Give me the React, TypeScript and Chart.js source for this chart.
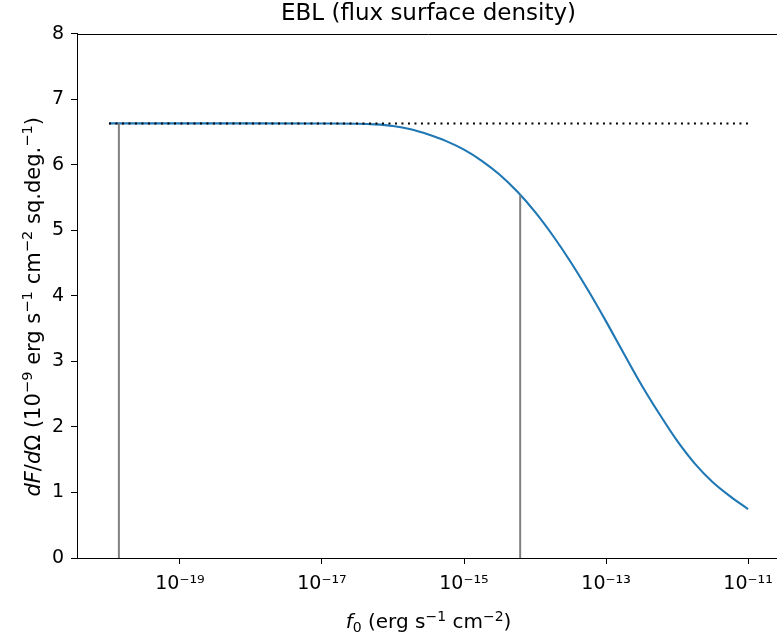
import React, { useEffect, useRef } from "react";
import { Chart, registerables } from "chart.js";

Chart.register(...registerables);

// f0 sample positions (erg s^-1 cm^-2) and read-off dF/dOmega values (1e-9 erg s^-1 cm^-2 sq.deg^-1)
const f0 = [
  1e-20, 1e-19, 1e-18, 1e-17, 3.16e-17, 5.62e-17, 1e-16, 1.78e-16, 3.16e-16, 5.62e-16,
  1e-15, 1.78e-15, 3.16e-15, 5.62e-15, 1e-14, 1.78e-14, 3.16e-14, 5.62e-14,
  1e-13, 1.78e-13, 3.16e-13, 5.62e-13, 1e-12, 1.78e-12, 3.16e-12, 5.62e-12, 1e-11,
];
const dFdOmega = [
  6.63, 6.63, 6.63, 6.628, 6.625, 6.615, 6.59, 6.54, 6.46, 6.36,
  6.23, 6.06, 5.85, 5.59, 5.28, 4.92, 4.52, 4.08,
  3.61, 3.12, 2.64, 2.2, 1.79, 1.44, 1.16, 0.94, 0.745,
];

const plateauLevel = 6.63;
const plateauRange = [1e-20, 1e-11];
const markerF0 = [1.38e-20, 6.18e-15];
const markerTop = [6.63, 5.53];

const xTickValues = [1e-19, 1e-17, 1e-15, 1e-13, 1e-11];
const xTickLabels = ["10⁻¹⁹", "10⁻¹⁷", "10⁻¹⁵", "10⁻¹³", "10⁻¹¹"];
const yTickValues = [0, 1, 2, 3, 4, 5, 6, 7, 8];

const titleText = "EBL (flux surface density)";

type Seg = { t: string; italic?: boolean; sup?: boolean; sub?: boolean };
// x label: f_0 (erg s^-1 cm^-2)
const xTitleSegs: Seg[] = [
  { t: "f", italic: true },
  { t: "0", sub: true },
  { t: " (erg s" },
  { t: "−1", sup: true },
  { t: " cm" },
  { t: "−2", sup: true },
  { t: ")" },
];
// y label: dF/dΩ (10^-9 erg s^-1 cm^-2 sq.deg.^-1)
const yTitleSegs: Seg[] = [
  { t: "dF", italic: true },
  { t: "/" },
  { t: "d", italic: true },
  { t: "Ω" },
  { t: " (10" },
  { t: "−9", sup: true },
  { t: " erg s" },
  { t: "−1", sup: true },
  { t: " cm" },
  { t: "−2", sup: true },
  { t: " sq.deg." },
  { t: "−1", sup: true },
  { t: ")" },
];

const FONT = "'DejaVu Sans', sans-serif";
const X_LABEL_SIZE = 20;
const Y_LABEL_SIZE = 21;

function segFont(s: Seg, size: number) {
  const sz = s.sup || s.sub ? size * 0.7 : size;
  return `${s.italic ? "italic " : ""}${sz}px ${FONT}`;
}

function drawRich(ctx: CanvasRenderingContext2D, segs: Seg[], size: number) {
  // draws centred on local x = 0, alphabetic baseline at local y = 0
  let total = 0;
  const widths = segs.map((s) => {
    ctx.font = segFont(s, size);
    const w = ctx.measureText(s.t).width;
    total += w;
    return w;
  });
  let x = -total / 2;
  ctx.textBaseline = "alphabetic";
  ctx.textAlign = "left";
  segs.forEach((s, i) => {
    ctx.font = segFont(s, size);
    const dy = s.sup ? -0.37 * size : s.sub ? 0.2 * size : 0;
    ctx.fillText(s.t, x, dy);
    x += widths[i];
  });
}

export default function App() {
  const ref = useRef<HTMLCanvasElement>(null);

  useEffect(() => {
    if (!ref.current) return;
    const decorations = {
      id: "decorations",
      afterDraw(chart: any) {
        const { ctx, chartArea } = chart;
        ctx.save();
        // top and right spines
        ctx.strokeStyle = "#000";
        ctx.lineWidth = 1;
        ctx.beginPath();
        ctx.moveTo(chartArea.left, Math.round(chartArea.top) + 0.5);
        ctx.lineTo(chartArea.right, Math.round(chartArea.top) + 0.5);
        ctx.moveTo(Math.round(chartArea.right) + 0.5, chartArea.top);
        ctx.lineTo(Math.round(chartArea.right) + 0.5, chartArea.bottom);
        ctx.stroke();
        ctx.fillStyle = "#000";
        // x axis title
        ctx.save();
        ctx.translate((chartArea.left + chartArea.right) / 2, chartArea.bottom + 70);
        drawRich(ctx, xTitleSegs, X_LABEL_SIZE);
        ctx.restore();
        // y axis title
        ctx.save();
        ctx.translate(chartArea.left - 37, (chartArea.top + chartArea.bottom) / 2 + 11);
        ctx.rotate(-Math.PI / 2);
        drawRich(ctx, yTitleSegs, Y_LABEL_SIZE);
        ctx.restore();
        ctx.restore();
      },
    };

    const chart = new Chart(ref.current, {
      type: "line",
      data: {
        datasets: [
          {
            label: "plateau",
            data: plateauRange.map((x) => ({ x, y: plateauLevel })),
            borderColor: "#000",
            borderWidth: 2,
            borderDash: [2, 4.5],
            borderCapStyle: "butt",
            pointRadius: 0,
          },
          {
            label: "marker1",
            data: [
              { x: markerF0[0], y: 0 },
              { x: markerF0[0], y: markerTop[0] },
            ],
            borderColor: "#808080",
            borderWidth: 2,
            pointRadius: 0,
          },
          {
            label: "marker2",
            data: [
              { x: markerF0[1], y: 0 },
              { x: markerF0[1], y: markerTop[1] },
            ],
            borderColor: "#808080",
            borderWidth: 2,
            pointRadius: 0,
          },
          {
            label: "EBL",
            data: f0.map((x, i) => ({ x, y: dFdOmega[i] })),
            borderColor: "#1f77b4",
            borderWidth: 2.1,
            pointRadius: 0,
            cubicInterpolationMode: "monotone",
          },
        ],
      },
      options: {
        responsive: false,
        animation: false,
        devicePixelRatio: 1,
        layout: { padding: { left: 0, right: 20, top: 0, bottom: 0 } },
        plugins: {
          legend: { display: false },
          tooltip: { enabled: false },
          title: {
            display: true,
            text: titleText,
            color: "#000",
            fullSize: false,
            font: { family: FONT, size: 23, weight: "normal" },
            padding: { top: 0, bottom: 6 },
          },
        },
        scales: {
          x: {
            type: "logarithmic",
            position: "bottom",
            bounds: "data",
            min: Math.pow(10, -20.45),
            max: Math.pow(10, -10.55),
            afterBuildTicks: (scale: any) => {
              scale.ticks = xTickValues.map((v) => ({ value: v }));
            },
            afterFit: (scale: any) => {
              scale.height = 80;
            },
            grid: {
              drawOnChartArea: false,
              drawTicks: true,
              tickLength: 6,
              tickColor: "#000",
              tickWidth: 1,
            },
            border: { color: "#000", width: 1 },
            ticks: {
              autoSkip: false,
              maxRotation: 0,
              color: "#000",
              padding: 9,
              font: { family: FONT, size: 19 },
              callback: (value: any) => {
                const i = xTickValues.findIndex((v) => Math.abs(Math.log10(v) - Math.log10(value)) < 1e-6);
                return i >= 0 ? xTickLabels[i] : "";
              },
            },
            title: { display: false },
          },
          y: {
            type: "linear",
            min: 0,
            max: 8,
            afterBuildTicks: (scale: any) => {
              scale.ticks = yTickValues.map((v) => ({ value: v }));
            },
            afterFit: (scale: any) => {
              scale.width = 77;
            },
            grid: {
              drawOnChartArea: false,
              drawTicks: true,
              tickLength: 6,
              tickColor: "#000",
              tickWidth: 1,
            },
            border: { color: "#000", width: 1 },
            ticks: {
              color: "#000",
              padding: 7,
              font: { family: FONT, size: 19 },
            },
            title: { display: false },
          },
        },
      },
      plugins: [decorations],
    } as any);

    return () => chart.destroy();
  }, []);

  return (
    <div
      style={{
        position: "fixed",
        left: 0,
        top: 0,
        width: 777,
        height: 638,
        overflow: "hidden",
        background: "#fff",
      }}
    >
      <canvas ref={ref} width={800} height={638} style={{ display: "block" }} />
    </div>
  );
}
